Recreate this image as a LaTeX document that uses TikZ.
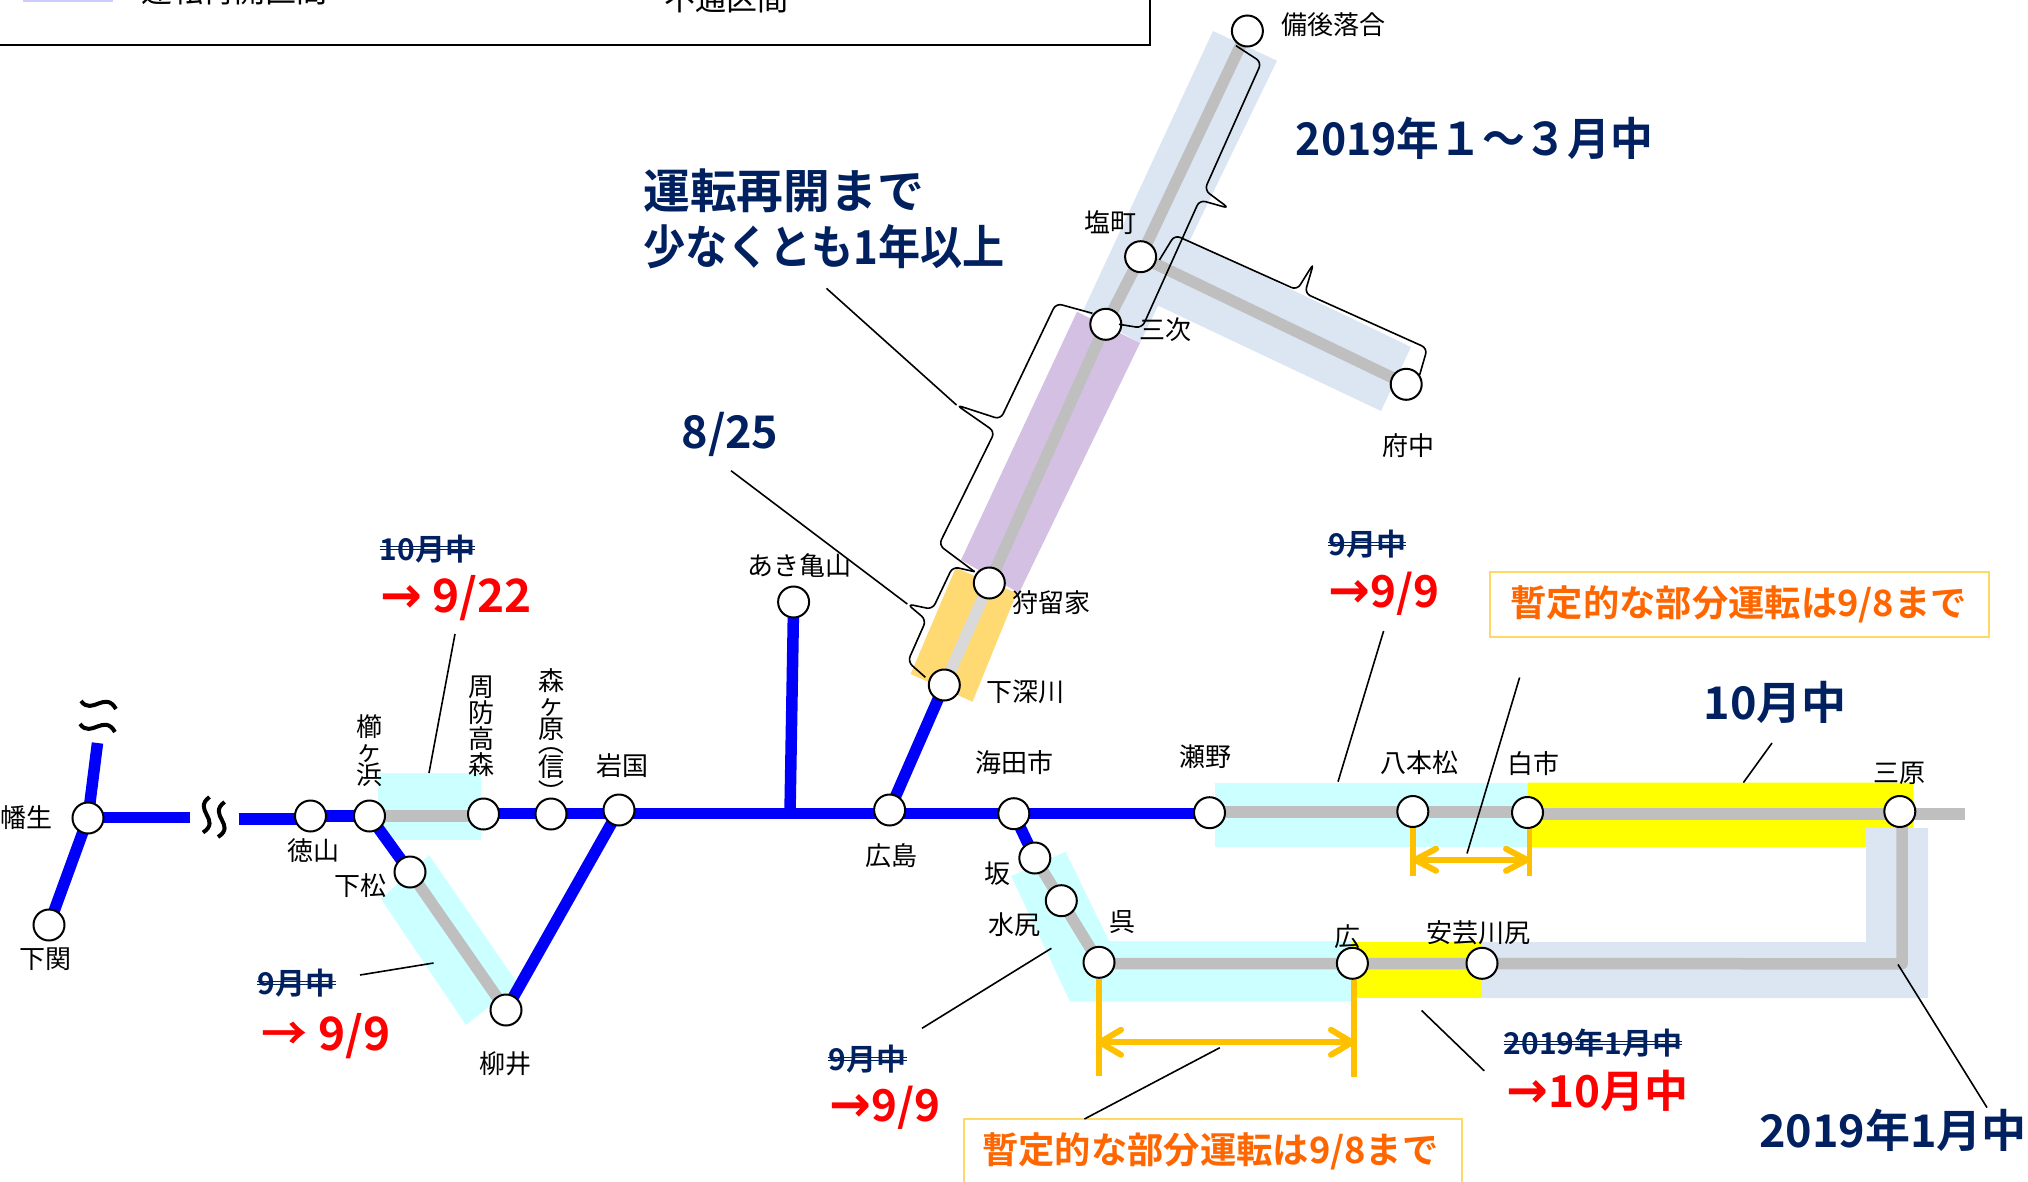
\documentclass[tikz,border=0pt]{standalone}
\usepackage{fontspec}
\setmainfont{Noto Sans CJK JP}[BoldFont=* Bold]
\newfontfamily\arwfont{DejaVu Sans}
\definecolor{railblue}{HTML}{0000FA}
\definecolor{railgray}{HTML}{BFBFBF}
\definecolor{railpale}{HTML}{D9D9D9}
\definecolor{bandcyan}{HTML}{CCFFFF}
\definecolor{bandyellow}{HTML}{FFFF00}
\definecolor{bandpale}{HTML}{DCE6F2}
\definecolor{bandlav}{HTML}{D3C0E2}
\definecolor{bandorange}{HTML}{FFD971}
\definecolor{navytxt}{HTML}{002060}
\definecolor{orangetxt}{HTML}{FF6600}
\definecolor{boxedge}{HTML}{FFD966}
\definecolor{spanor}{HTML}{FFC000}
\definecolor{swatch}{HTML}{CCCCFF}
\pgfdeclarelayer{under}
\pgfsetlayers{under,main}
\newcommand{\fsz}[1]{\fontsize{#1}{#1}\selectfont}
\newcommand{\vfsz}[2]{\fontsize{#1}{#2}\selectfont\lineskiplimit=-100pt\relax}
\newcommand{\arw}{{\arwfont\bfseries\fsz{50}→}}
\tikzset{
  stn/.style={circle,draw=black,fill=white,line width=2pt,minimum size=31pt,inner sep=0pt},
  lbl/.style={inner sep=0pt,font=\fsz{26},text=black},
  vlbl/.style={inner sep=0pt,align=center,text=black},
  rblue/.style={draw=railblue,line width=11.5pt},
  rgray/.style={draw=railgray,line width=11.5pt},
  rpale/.style={draw=railpale,line width=11.5pt},
  lead/.style={draw=black,line width=1.6pt},
  brc/.style={draw=black,line width=1.6pt,rounded corners=6pt},
  head/.style={inner sep=0pt,text=navytxt,font=\fsz{45}\bfseries},
  old/.style={inner sep=0pt,text=navytxt,font=\fsz{30}\bfseries},
  newd/.style={inner sep=0pt,text=red,font=\fsz{44}\bfseries},
  note/.style={inner sep=0pt,text=orangetxt,font=\fsz{36.3}\bfseries},
  notebox/.style={draw=boxedge,line width=2pt},
  span/.style={draw=spanor,line width=5.5pt},
  spanh/.style={draw=spanor,line width=6pt,line cap=round,line join=round},
  sq/.style={draw=black,line width=4pt},
  strk/.style={draw=navytxt,line width=1.3pt}
}
\begin{document}
\begin{tikzpicture}[x=1pt,y=-1pt]
\useasboundingbox (0,0) rectangle (2028,1182);
% stations
\node[stn] (hatabu) at (88,818) {};
\node[stn] (shimonoseki) at (49,925) {};
\node[stn] (tokuyama) at (310.5,816) {};
\node[stn] (kushigahama) at (369.5,816) {};
\node[stn] (takamori) at (483.5,814) {};
\node[stn] (morigahara) at (551,814) {};
\node[stn] (iwakuni) at (619,810) {};
\node[stn] (kudamatsu) at (410,872) {};
\node[stn] (yanai) at (506,1010) {};
\node[stn] (kameyama) at (793.6,602) {};
\node[stn] (hiroshima) at (889.6,810) {};
\node[stn] (kaitaichi) at (1013.8,813.7) {};
\node[stn] (seno) at (1209.5,812.7) {};
\node[stn] (saka) at (1034.8,858) {};
\node[stn] (mizushiri) at (1061.3,900.7) {};
\node[stn] (kure) at (1099,962.3) {};
\node[stn] (hiro) at (1352.4,963.3) {};
\node[stn] (kawajiri) at (1482,963.3) {};
\node[stn] (hachihonmatsu) at (1412.8,811.5) {};
\node[stn] (shiraichi) at (1527.5,812.5) {};
\node[stn] (mihara) at (1899.8,811.5) {};
\node[stn] (karuga) at (989.3,583) {};
\node[stn] (shimofukawa) at (944.3,685) {};
\node[stn] (miyoshi) at (1105.8,324.3) {};
\node[stn] (shiomachi) at (1140.6,256.7) {};
\node[stn] (ochiai) at (1247.4,31) {};
\node[stn] (fuchu) at (1406.2,384.3) {};
% free ends and junctions
\coordinate (hatabuN) at (97.5,743);
\coordinate (gapW) at (190,817.5);
\coordinate (gapE) at (238.5,819);
\coordinate (tokW) at (310.5,819);
\coordinate (kushiE) at (483.5,816);
\coordinate (trunkW) at (483.5,813.4);
\coordinate (trunkE) at (1209.5,813.4);
\coordinate (junc) at (790,813);
\coordinate (upperA) at (1209.5,812);
\coordinate (upperB) at (1527.5,812);
\coordinate (upperC) at (1527.5,814);
\coordinate (miharaE) at (1965,814);
\coordinate (lowerA) at (1099,963.5);
\coordinate (bendS) at (1902,963.8);
\coordinate (miharaS) at (1902,813);
\begin{pgfonlayer}{under}
% bands
\fill[bandpale] (1213,31) -- (1277,60.7) -- (1140,343) -- (1083,311) -- cycle;
\fill[bandpale] (1172,232) -- (1411,347) -- (1381,411) -- (1125,290) -- cycle;
\fill[bandlav] (1077,311.7) -- (1140,343) -- (1019,593) -- (961,560) -- cycle;
\fill[bandorange] (955.7,568) -- (1016.7,593) -- (972.5,701.7) -- (910.6,674) -- cycle;
\fill[bandcyan] (378,773) rectangle (480.5,840);
\fill[bandcyan] (429,855) -- (518,984) -- (466,1025) -- (381,899) -- cycle;
\fill[bandcyan] (1214.5,782.5) rectangle (1527.5,847);
\fill[bandyellow] (1527.5,782.5) -- (1913.7,782.5) -- (1913.7,828) -- (1866,828) -- (1866,847) -- (1527.5,847) -- cycle;
\fill[bandpale] (1866,828) -- (1928,828) -- (1928,998) -- (1482,998) -- (1482,942) -- (1866,942) -- cycle;
\fill[bandyellow] (1352,942) rectangle (1482,997.7);
\fill[bandcyan] (1011.2,876) -- (1065.5,851.7) -- (1109,941) -- (1352,941) -- (1352,1001.7) -- (1070,1001.7) -- cycle;
% rails
\draw[rblue] (hatabu.center) -- (hatabuN);
\draw[rblue] (hatabu.center) -- (shimonoseki.center);
\draw[rblue] (hatabu.center |- gapW) -- (gapW);
\draw[rblue] (gapE) -- (tokW);
\draw[rblue] (tokuyama.center) -- (kushigahama.center);
\draw[rblue] (kushigahama.center) -- (kudamatsu.center);
\draw[rgray] (kushigahama.center) -- (kushiE);
\draw[rgray] (kudamatsu.center) -- (yanai.center);
\draw[rblue] (yanai.center) -- (iwakuni.center);
\draw[rblue] (trunkW) -- (trunkE);
\draw[rblue] (kameyama.center) -- (junc);
\draw[rblue] (hiroshima.center) -- (shimofukawa.center);
\draw[rblue] (kaitaichi.center) -- (saka.center);
\draw[rgray,line join=round] (saka.center) -- (mizushiri.center) -- (kure.center) -- (lowerA) -- (bendS) -- (miharaS);
\draw[rgray] (upperA) -- (upperB);
\draw[rgray] (upperC) -- (miharaE);
\draw[rgray] (ochiai.center) -- (shiomachi.center) -- (miyoshi.center) -- (karuga.center);
\draw[rpale] (karuga.center) -- (shimofukawa.center);
\draw[rgray] (shiomachi.center) -- (fuchu.center);
\end{pgfonlayer}
% squiggles
\draw[sq] (81,701) .. controls (92,716) and (105,690) .. (116,709);
\draw[sq] (80,724) .. controls (91,739) and (104,713) .. (115,732);
\draw[sq] (209.5,797) .. controls (192,810) and (222,820) .. (203,832.5);
\draw[sq] (224.6,802) .. controls (207,815) and (237,825) .. (218,837);
% legend
\fill[swatch] (23,-6) rectangle (113,2);
\draw[draw=black,line width=2pt] (0,45) -- (1150,45) -- (1150,-3);
\node[inner sep=0pt,font=\fsz{31}] (legA) at (234.5,-9) {運転再開区間};
\node[inner sep=0pt,font=\fsz{31}] (legB) at (726,-1) {不通区間};
% station labels
\node[lbl] (t1) at (26,818) {幡生};
\node[lbl] (t2) at (45.5,959) {下関};
\node[lbl] (t3) at (313,851) {徳山};
\node[vlbl,font=\vfsz{26}{24}] (t4) at (369.5,751) {櫛\\ヶ\\浜};
\node[vlbl,font=\vfsz{26}{26}] (t5) at (481,726) {周\\防\\高\\森};
\node[vlbl,font=\vfsz{26}{24}] (t6) at (551.6,705) {森\\ヶ\\原};
\node[lbl,rotate=-90] (t6a) at (551.6,742) {（};
\node[lbl] (t6b) at (551.6,767) {信};
\node[lbl,rotate=-90] (t6c) at (551.6,792) {）};
\node[lbl] (t7) at (622,766) {岩国};
\node[lbl] (t8) at (360,886) {下松};
\node[lbl] (t9) at (505,1063.6) {柳井};
\node[lbl] (t10) at (799,566) {あき亀山};
\node[lbl] (t11) at (1051,603) {狩留家};
\node[lbl] (t12) at (1025,692) {下深川};
\node[lbl] (t13) at (1014.6,763) {海田市};
\node[lbl] (t14) at (1205,757) {瀬野};
\node[lbl] (t15) at (891.7,855.7) {広島};
\node[lbl] (t16) at (997.8,874) {坂};
\node[lbl] (t17) at (1014.5,925) {水尻};
\node[lbl] (t18) at (1122,921.7) {呉};
\node[lbl] (t19) at (1347.7,936.7) {広};
\node[lbl] (t20) at (1478.7,932.4) {安芸川尻};
\node[lbl] (t21) at (1419.3,762.7) {八本松};
\node[lbl] (t22) at (1533,764) {白市};
\node[lbl] (t23) at (1899.8,773.3) {三原};
\node[lbl] (t24) at (1333.5,24.3) {備後落合};
\node[lbl] (t25) at (1110.8,222.3) {塩町};
\node[lbl] (t26) at (1165,330) {三次};
\node[lbl] (t27) at (1408,446) {府中};
% headings
\node[head] (h1) at (1474.5,138.4) {\addfontfeature{FakeStretch=0.95}2019年１～３月中};
\node[head,anchor=west,font=\fsz{46.8}\bfseries] (h2) at (643,191) {運転再開まで};
\node[head,anchor=west,font=\fsz{46.8}\bfseries] (h3) at (643,247) {\addfontfeature{FakeStretch=0.9}少なくとも1年以上};
\node[head] (h4) at (730,434.5) {8/25};
\node[head] (h5) at (1775,702.4) {10月中};
\node[head] (h6) at (1893,1130) {2019年1月中};
% struck dates
\node[old] (o1) at (427.5,548.6) {10月中};
\node[old] (o2) at (296.5,983) {9月中};
\node[old] (o3) at (867.5,1059) {9月中};
\node[old] (o4) at (1367.3,544.5) {9月中};
\node[old] (o5) at (1593,1043.4) {2019年1月中};
\foreach \n in {o1,o2,o3,o4,o5}{
  \draw[strk] ([yshift=1.8pt]\n.west) -- ([yshift=1.8pt]\n.east);
  \draw[strk] ([yshift=-1.2pt]\n.west) -- ([yshift=-1.2pt]\n.east);
}
% new dates
\node[newd,font=\fsz{46}\bfseries] (r1) at (456,598.5) {\arw{} 9/22};
\node[newd,font=\fsz{46}\bfseries] (r2) at (326,1036) {→ 9/9};
\node[newd] (r3) at (884.7,1108) {\arw{}9/9};
\node[newd] (r4) at (1384,593.5) {\arw{}9/9};
\node[newd] (r5) at (1597.5,1091) {\arw{}10月中};
% notes
\draw[notebox] (1490,572) rectangle (1989.4,637);
\node[note] (n1) at (1738.7,604.4) {暫定的な部分運転は9/8まで};
\draw[notebox] (964,1190) -- (964,1119) -- (1462,1119) -- (1462,1190);
\node[note] (n2) at (1210.4,1151.7) {暫定的な部分運転は9/8まで};
% span markers
\draw[span] (kure.south) -- ++(0,97);
\draw[span] ([xshift=1.5pt]hiro.south) -- ++(0,97);
\coordinate (sA) at (1100,1042.3);
\coordinate (sB) at (1352,1042.3);
\draw[spanh] (sA) -- (sB);
\draw[spanh] ([shift={(21,-12.5)}]sA) -- (sA) -- ([shift={(21,12.5)}]sA);
\draw[spanh] ([shift={(-21,-12.5)}]sB) -- (sB) -- ([shift={(-21,12.5)}]sB);
\draw[span] (hachihonmatsu.south) -- ++(0,48);
\draw[span] ([xshift=1.8pt]shiraichi.south) -- ++(0,47);
\coordinate (sC) at (1415,859.8);
\coordinate (sD) at (1527,859.8);
\draw[spanh] (sC) -- (sD);
\draw[spanh] ([shift={(21,-11)}]sC) -- (sC) -- ([shift={(21,11)}]sC);
\draw[spanh] ([shift={(-21,-11)}]sD) -- (sD) -- ([shift={(-21,11)}]sD);
% leads
\coordinate (l1) at (455,634); \coordinate (l1b) at (429,773);
\draw[lead] (l1) -- (l1b);
\coordinate (l2) at (360,975); \coordinate (l2b) at (433.6,963);
\draw[lead] (l2) -- (l2b);
\coordinate (l3) at (922,1028.3); \coordinate (l3b) at (1051.4,948.3);
\draw[lead] (l3) -- (l3b);
\coordinate (l4) at (1219.8,1047.7); \coordinate (l4b) at (1084.4,1119);
\draw[lead] (l4) -- (l4b);
\coordinate (l5) at (1383.6,631); \coordinate (l5b) at (1338,781.7);
\draw[lead] (l5) -- (l5b);
\coordinate (l6) at (1519.6,677.5); \coordinate (l6b) at (1467,853.5);
\draw[lead] (l6) -- (l6b);
\coordinate (l7) at (1772,743); \coordinate (l7b) at (1743.4,782.6);
\draw[lead] (l7) -- (l7b);
\coordinate (l8) at (1421.6,1010.5); \coordinate (l8b) at (1484.3,1070.9);
\draw[lead] (l8) -- (l8b);
\coordinate (l9) at (1898,964.5); \coordinate (l9b) at (1987,1107.6);
\draw[lead] (l9) -- (l9b);
% braces
\draw[lead] (731,470.7) -- (907.3,604);
\draw[brc] (925.4,677.3) -- (907.7,661.7) -- (926.2,620) -- (907.3,604) -- (932.5,609.3) -- (952.7,566.7) -- (974.6,571.7);
\draw[lead] (826.5,288.4) -- (956.5,405);
\draw[brc] (974.6,571.7) -- (938.8,545) -- (994.8,431.7) -- (956.5,405) -- (1000.5,419.3) -- (1056,303.3) -- (1092.4,313.3);
\draw[brc] (1236,45.7) -- (1261.5,62.3) -- (1204.5,190) -- (1229,208.3) -- (1199.6,200) -- (1142,328) -- (1119,324.3);
\draw[brc] (1159.4,260) -- (1174.7,235) -- (1297,290) -- (1313.6,263.3) -- (1304.8,293.3) -- (1427.3,348.3) -- (1419.6,375);
\end{tikzpicture}
\end{document}
